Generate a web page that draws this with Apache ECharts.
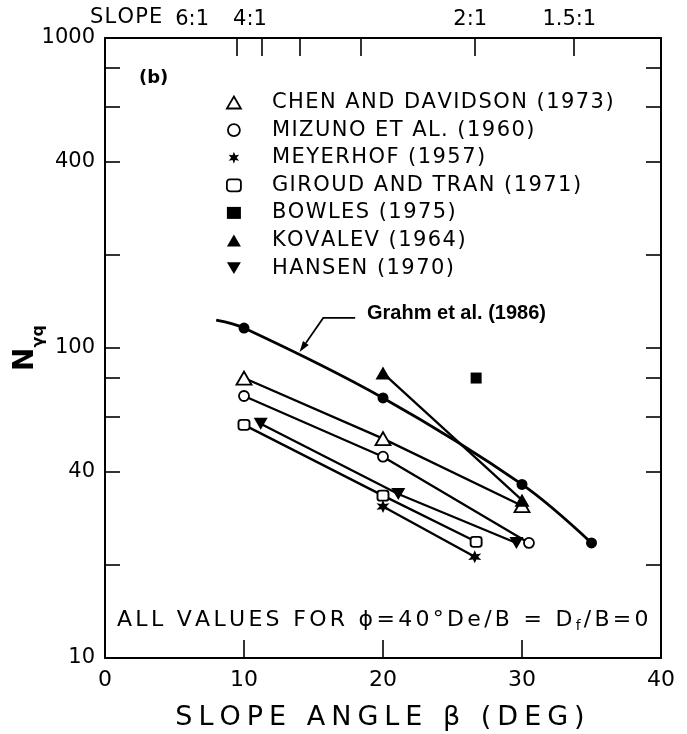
<!DOCTYPE html>
<html>
<head>
<meta charset="utf-8">
<script src="https://cdn.jsdelivr.net/npm/echarts@6/dist/echarts.min.js"></script>
<style>
  html, body { margin: 0; padding: 0; background: #fff; }
  #chart { width: 687px; height: 734px; }
</style>
</head>
<body>
<div id="chart"></div>
<script>
// Slope angle beta (deg) against bearing capacity factor N_gamma_q, phi = 40 deg
const grahmBeta = [8, 10, 20, 30, 35];
const grahmN = [123, 116, 69, 36.3, 23.5];
const chenBeta = [10, 20, 30];
const chenN = [80, 51, 31];
const mizunoBeta = [10, 20, 30.5];
const mizunoN = [70, 44.6, 23.5];
const meyerhofBeta = [20, 26.6];
const meyerhofN = [30.8, 21.2];
const giroudBeta = [10, 20, 26.7];
const giroudN = [56.5, 33.4, 23.7];
const bowlesBeta = [26.7];
const bowlesN = [80];
const kovalevBeta = [20, 30];
const kovalevN = [83, 32.3];
const hansenBeta = [11.2, 21.1, 29.6];
const hansenN = [57, 33.8, 23.5];

// Axis ticks and labels
const betaTicks = [0, 10, 20, 30, 40];
const nLabelValues = [10, 40, 100, 400, 1000];
const nTickValues = [20, 40, 60, 80, 100, 200, 400, 600, 800];
const slopeTickRatios = [6, 5, 4, 3, 2, 1.5];        // horizontal : 1
const slopeLabelRatios = [6, 4, 2, 1.5];

const FONT = 'DejaVu Sans';
const INK = '#000';

// slope H:1 -> angle in degrees
const slopeAngle = h => Math.atan(1 / h) * 180 / Math.PI;
const slopeTicks = slopeTickRatios.map(slopeAngle);
const ratioText = h => h + ':1';
// "6:1" and "4:1" share one label block anchored at the 6:1 tick, so the two
// left-shifted labels never collide; 2:1 and 1.5:1 sit on their own ticks
const slopeLabelAnchors = [slopeAngle(6), slopeAngle(2), slopeAngle(1.5)];
const slopeLabelText = [
  '{t|' + ratioText(slopeLabelRatios[0]) + '}{g|}{t|' + ratioText(slopeLabelRatios[1]) + '}{p0|}',
  '{t|' + ratioText(slopeLabelRatios[2]) + '}{p1|}',
  '{t|' + ratioText(slopeLabelRatios[3]) + '}{p2|}'
];

const pairs = (xs, ys) => xs.map((x, i) => [x, ys[i]]);

// Letter-spaced text: one rich token per character
function spaced(text, key) {
  return Array.from(text).map(ch => '{' + key + '|' + ch + '}').join('');
}

// six-pointed star marker
function starPath() {
  const pts = [];
  for (let i = 0; i < 12; i++) {
    const a = -Math.PI / 2 + i * Math.PI / 6;
    const r = i % 2 === 0 ? 10 : 4.6;
    pts.push((10 + r * Math.cos(a)).toFixed(2) + ',' + (10 + r * Math.sin(a)).toFixed(2));
  }
  return 'path://M' + pts.join('L') + 'Z';
}
const STAR = starPath();
const DOWN_TRI = 'path://M0,0L12,0L6,10Z';

const openStyle = { color: '#fff', borderColor: '#000', borderWidth: 1.8, opacity: 1 };
const solidStyle = { color: '#000', borderColor: '#000', borderWidth: 0, opacity: 1 };

function lineSeries(name, xs, ys, symbol, size, itemStyle, width) {
  return {
    name, type: 'line', data: pairs(xs, ys), symbol, symbolSize: size,
    showAllSymbol: true, itemStyle, lineStyle: { color: '#000', width: width || 2.3 },
    z: 3, animation: false
  };
}

const grahmData = pairs(grahmBeta, grahmN).map((p, i) =>
  i === 0 ? { value: p, symbol: 'none' } : { value: p });

const series = [
  {
    name: 'Grahm et al. (1986)', type: 'line', data: grahmData, smooth: 0.35,
    symbol: 'circle', symbolSize: 11, itemStyle: solidStyle,
    lineStyle: { color: '#000', width: 2.8 }, z: 4, animation: false
  },
  lineSeries('CHEN AND DAVIDSON (1973)', chenBeta, chenN, 'triangle', [15, 13], openStyle),
  lineSeries('MIZUNO ET AL. (1960)', mizunoBeta, mizunoN, 'circle', 10, openStyle),
  lineSeries('MEYERHOF (1957)', meyerhofBeta, meyerhofN, STAR, 13, solidStyle),
  lineSeries('GIROUD AND TRAN (1971)', giroudBeta, giroudN, 'roundRect', [11, 10], openStyle),
  {
    name: 'BOWLES (1975)', type: 'scatter', data: pairs(bowlesBeta, bowlesN),
    symbol: 'rect', symbolSize: 11, itemStyle: solidStyle, z: 3, animation: false
  },
  lineSeries('KOVALEV (1964)', kovalevBeta, kovalevN, 'triangle', [15, 13], solidStyle),
  lineSeries('HANSEN (1970)', hansenBeta, hansenN, DOWN_TRI, [14, 12], solidStyle)
];

const legendIcons = {
  'CHEN AND DAVIDSON (1973)': ['triangle', openStyle],
  'MIZUNO ET AL. (1960)': ['circle', openStyle],
  'MEYERHOF (1957)': [STAR, solidStyle],
  'GIROUD AND TRAN (1971)': ['roundRect', openStyle],
  'BOWLES (1975)': ['rect', solidStyle],
  'KOVALEV (1964)': ['triangle', solidStyle],
  'HANSEN (1970)': [DOWN_TRI, solidStyle]
};

const chart = echarts.init(document.getElementById('chart'), null, { renderer: 'canvas' });

const frameLine = { show: true, onZero: false, lineStyle: { color: '#000', width: 2 } };

const slopeRich = {
  t: { fontSize: 21, fontFamily: FONT, color: INK },
  g: { width: 24, fontSize: 21, fontFamily: FONT },
  p0: { width: 31, fontSize: 21, fontFamily: FONT },
  p1: { width: 8, fontSize: 21, fontFamily: FONT },
  p2: { width: 8, fontSize: 21, fontFamily: FONT }
};

chart.setOption({
  backgroundColor: '#fff',
  animation: false,
  textStyle: { fontFamily: FONT, color: INK },
  grid: { left: 105, right: 26, top: 38, bottom: 76, containLabel: false, outerBoundsMode: 'none' },
  legend: {
    orient: 'vertical', left: 226, top: 92, itemGap: 6.6, padding: 0,
    itemWidth: 14, itemHeight: 12, selectedMode: false,
    formatter: name => '{g|}' + spaced(name, 'c'),
    textStyle: {
      fontFamily: FONT, fontSize: 21, color: INK,
      rich: {
        g: { width: 26 },
        c: { fontSize: 21, fontFamily: FONT, color: INK, padding: [0, 1.45, 0, 0] }
      }
    },
    data: Object.keys(legendIcons).map(name => ({
      name, icon: legendIcons[name][0], itemStyle: legendIcons[name][1]
    }))
  },
  xAxis: [
    {
      type: 'value', position: 'bottom', min: betaTicks[0], max: betaTicks[betaTicks.length - 1],
      interval: 10,
      axisLine: frameLine,
      axisTick: { show: true, inside: true, length: 18, lineStyle: { color: '#000', width: 1.6 } },
      axisLabel: { fontSize: 22, color: INK, margin: 11, fontFamily: FONT },
      splitLine: { show: false },
      name: spaced('SLOPE ANGLE β (DEG)', 't'), nameLocation: 'middle', nameGap: 46,
      nameTextStyle: {
        fontSize: 27, color: INK, fontFamily: FONT,
        rich: { t: { fontSize: 27, fontFamily: FONT, color: INK, padding: [0, 6, 0, 0] } }
      }
    },
    {
      type: 'value', position: 'top', min: 0, max: 40,
      axisLine: frameLine,
      axisTick: { show: true, inside: true, length: 18, customValues: slopeTicks,
        lineStyle: { color: '#000', width: 1.6 } },
      axisLabel: {
        customValues: slopeLabelAnchors, margin: 8, fontSize: 21, color: INK, fontFamily: FONT,
        showMinLabel: true, showMaxLabel: true, hideOverlap: false,
        formatter: v => slopeLabelText[slopeLabelAnchors.findIndex(a => Math.abs(a - v) < 1e-6)],
        rich: slopeRich
      },
      splitLine: { show: false }
    }
  ],
  yAxis: [
    {
      type: 'log', logBase: 10, min: 10, max: 1000, position: 'left',
      axisLine: frameLine,
      axisTick: { show: true, inside: true, length: 15, customValues: nTickValues,
        lineStyle: { color: '#000', width: 1.6 } },
      axisLabel: { customValues: nLabelValues, fontSize: 21, color: INK, margin: 10, fontFamily: FONT,
        formatter: v => String(Math.round(v)) },
      splitLine: { show: false },
      minorTick: { show: false },
      name: '{n|N}{s|γq}', nameLocation: 'middle', nameGap: 58, nameRotate: 90,
      nameMoveOverlap: false,
      nameTextStyle: {
        rich: {
          n: { fontSize: 28, fontWeight: 'bold', fontFamily: FONT, color: '#000' },
          s: { fontSize: 16, fontWeight: 'bold', fontFamily: FONT, color: '#000', padding: [26, 0, 0, 0] }
        }
      }
    },
    {
      type: 'log', logBase: 10, min: 10, max: 1000, position: 'right',
      axisLine: frameLine,
      axisTick: { show: true, inside: true, length: 15, customValues: nTickValues,
        lineStyle: { color: '#000', width: 1.6 } },
      axisLabel: { show: false },
      splitLine: { show: false }
    }
  ],
  series: series,
  graphic: [
    { id: 'slopeWord', type: 'text', left: 90, top: 7,
      style: {
        text: spaced('SLOPE', 'c'), fontSize: 21, fontFamily: FONT, fill: INK,
        rich: { c: { fontSize: 21, fontFamily: FONT, fill: INK, padding: [0, 1.2, 0, 0] } }
      } },
    { id: 'panel', type: 'text', left: 139, top: 69,
      style: { text: '(b)', fontSize: 18, fontWeight: 'bold', fontFamily: FONT, fill: INK } },
    {
      id: 'conditions', type: 'text', left: 117, top: 609,
      style: {
        text: spaced('ALL VALUES FOR ϕ=40°De/B = D', 'c') + '{sub|f}' + spaced('/B=0', 'c'),
        fontSize: 22, fontFamily: FONT, fill: INK,
        rich: {
          c: { fontSize: 22, fontFamily: FONT, fill: INK, padding: [0, 3.3, 0, 0] },
          sub: { fontSize: 14, fontFamily: FONT, fill: INK, padding: [12, 3, 0, 0] }
        }
      }
    }
  ]
});

// Pointer from the label to the Grahm et al. curve, placed in data space
const arrowTip = [14.0, 97];
const arrowElbow = [15.7, 125];
const arrowTail = [18.0, 125];
const labelAnchor = [18.85, 129];

function drawPointer() {
  const px = p => chart.convertToPixel({ xAxisIndex: 0, yAxisIndex: 0 }, p);
  const tip = px(arrowTip), elbow = px(arrowElbow), tail = px(arrowTail), lab = px(labelAnchor);
  const dx = tip[0] - elbow[0], dy = tip[1] - elbow[1];
  const len = Math.hypot(dx, dy), ux = dx / len, uy = dy / len;
  const head = 11, half = 3.5;
  const bx = tip[0] - ux * head, by = tip[1] - uy * head;
  chart.setOption({
    graphic: [
      {
        id: 'pointerLine', type: 'polyline', z: 10,
        shape: { points: [tail, elbow, [bx, by]] },
        style: { stroke: '#000', lineWidth: 1.7, fill: null }
      },
      {
        id: 'pointerHead', type: 'polygon', z: 10,
        shape: { points: [tip, [bx - uy * half, by + ux * half], [bx + uy * half, by - ux * half]] },
        style: { fill: '#000' }
      },
      {
        id: 'pointerLabel', type: 'text', z: 10, x: lab[0], y: lab[1],
        style: {
          text: 'Grahm et al. (1986)', font: 'bold 20px "Liberation Sans", Arial, sans-serif',
          fill: '#000', verticalAlign: 'middle', align: 'left'
        }
      }
    ]
  });
}
drawPointer();
</script>
</body>
</html>
